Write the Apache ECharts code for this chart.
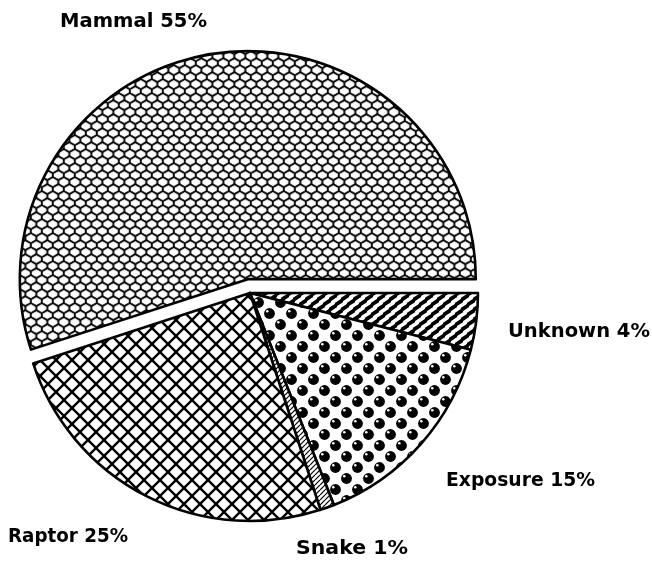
<!DOCTYPE html>
<html>
<head>
<meta charset="utf-8">
<script src="https://cdn.jsdelivr.net/npm/echarts@6/dist/echarts.min.js"></script>
<style>
html,body{margin:0;padding:0;background:#fff;}
#chart{width:652px;height:562px;}
</style>
</head>
<body>
<div id="chart"></div>
<script>
// Data (clockwise from 3 o'clock)
const categories = ['Unknown', 'Exposure', 'Snake', 'Raptor', 'Mammal'];
const percents = [4, 15, 1, 25, 55];
const explodedCategory = 'Mammal';

// Label layout: left x, middle y, target text width
const labelPos = [[508, 332], [446, 481], [296, 549], [8, 537], [60, 22]];
const labelWidth = [142, 149, 112, 120, 147];

const FONT_FAMILY = 'DejaVu Sans';
const FONT_SIZE = 19;

function makeCanvas(w, h) {
  const c = document.createElement('canvas');
  c.width = w; c.height = h;
  return c;
}

function hexPattern() {
  const W = 11, R = 7, H = 14;
  const c = makeCanvas(W, H);
  const g = c.getContext('2d');
  g.fillStyle = '#fff'; g.fillRect(0, 0, W, H);
  g.strokeStyle = '#000'; g.lineWidth = 1.5; g.lineJoin = 'round';
  const a = 5, b = 2;
  for (let row = -1; row <= 3; row++) {
    const cy = row * R;
    const off = (row % 2 !== 0) ? W / 2 : 0;
    for (let k = -1; k <= 2; k++) {
      const cx = k * W + off;
      g.beginPath();
      g.moveTo(cx, cy - a);
      g.lineTo(cx + W / 2, cy - b);
      g.lineTo(cx + W / 2, cy + b);
      g.lineTo(cx, cy + a);
      g.lineTo(cx - W / 2, cy + b);
      g.lineTo(cx - W / 2, cy - b);
      g.closePath();
      g.stroke();
    }
  }
  return c;
}

function crossPattern() {
  const S = 16;
  const c = makeCanvas(S, S);
  const g = c.getContext('2d');
  g.fillStyle = '#fff'; g.fillRect(0, 0, S, S);
  g.strokeStyle = '#000'; g.lineWidth = 2.4;
  for (let k = -1; k <= 1; k++) {
    g.beginPath(); g.moveTo(k * S, 0); g.lineTo(k * S + S, S); g.stroke();
    g.beginPath(); g.moveTo(k * S + S, 0); g.lineTo(k * S, S); g.stroke();
  }
  return c;
}

function dotPattern() {
  const S = 22;
  const c = makeCanvas(S, S);
  const g = c.getContext('2d');
  g.fillStyle = '#fff'; g.fillRect(0, 0, S, S);
  const pts = [[5.5, 5.5], [16.5, 16.5]];
  pts.forEach(p => {
    g.fillStyle = '#000';
    g.beginPath(); g.arc(p[0], p[1], 5.4, 0, Math.PI * 2); g.fill();
    g.fillStyle = '#fff';
    g.beginPath(); g.arc(p[0] - 2.2, p[1] - 2.2, 1.3, 0, Math.PI * 2); g.fill();
  });
  return c;
}

function brickPattern() {
  const W = 12, H = 10;
  const c = makeCanvas(W, H);
  const g = c.getContext('2d');
  g.fillStyle = '#000'; g.fillRect(0, 0, W, H);
  g.strokeStyle = '#fff'; g.lineWidth = 3.6; g.lineCap = 'round';
  const dx = 3.2, dy = -2.1;
  for (let i = -1; i <= 2; i++) {
    for (let j = -1; j <= 3; j++) {
      const cx = i * W + ((j % 2 !== 0) ? W / 2 : 0);
      const cy = j * (H / 2);
      g.beginPath(); g.moveTo(cx - dx, cy - dy); g.lineTo(cx + dx, cy + dy); g.stroke();
    }
  }
  return c;
}

function hatchPattern() {
  const S = 5;
  const c = makeCanvas(S, S);
  const g = c.getContext('2d');
  g.fillStyle = '#fff'; g.fillRect(0, 0, S, S);
  g.strokeStyle = '#000'; g.lineWidth = 1.2;
  for (let k = -1; k <= 1; k++) {
    g.beginPath(); g.moveTo(k * S, S); g.lineTo(k * S + S, 0); g.stroke();
  }
  return c;
}

const patterns = {
  'Unknown': brickPattern(),
  'Exposure': dotPattern(),
  'Snake': hatchPattern(),
  'Raptor': crossPattern(),
  'Mammal': hexPattern()
};

const chart = echarts.init(document.getElementById('chart'), null, { renderer: 'canvas' });

const seriesData = categories.map((name, i) => ({
  name: name,
  value: percents[i],
  selected: name === explodedCategory,
  itemStyle: { color: { image: patterns[name], repeat: 'repeat' } }
}));

// measure text to fit the reference label widths
const mctx = document.createElement('canvas').getContext('2d');
mctx.font = 'bold ' + FONT_SIZE + 'px "' + FONT_FAMILY + '"';

const labelGraphics = categories.map((name, i) => {
  const text = name + ' ' + percents[i] + '%';
  const w = mctx.measureText(text).width;
  return {
    type: 'text',
    x: labelPos[i][0],
    y: labelPos[i][1],
    scaleX: labelWidth[i] / w,
    silent: true,
    style: {
      text: text,
      fill: '#000',
      fontFamily: FONT_FAMILY,
      fontWeight: 'bold',
      fontSize: FONT_SIZE,
      align: 'left',
      verticalAlign: 'middle'
    }
  };
});

chart.setOption({
  animation: false,
  backgroundColor: '#fff',
  graphic: labelGraphics,
  series: [{
    type: 'pie',
    center: [250, 293],
    radius: 228,
    startAngle: 0,
    clockwise: true,
    selectedMode: 'single',
    selectedOffset: 14,
    silent: true,
    itemStyle: { borderColor: '#000', borderWidth: 2.6 },
    emphasis: { disabled: true },
    select: { itemStyle: { borderColor: '#000', borderWidth: 2.6 } },
    label: { show: false },
    labelLine: { show: false },
    data: seriesData
  }]
});
</script>
</body>
</html>
